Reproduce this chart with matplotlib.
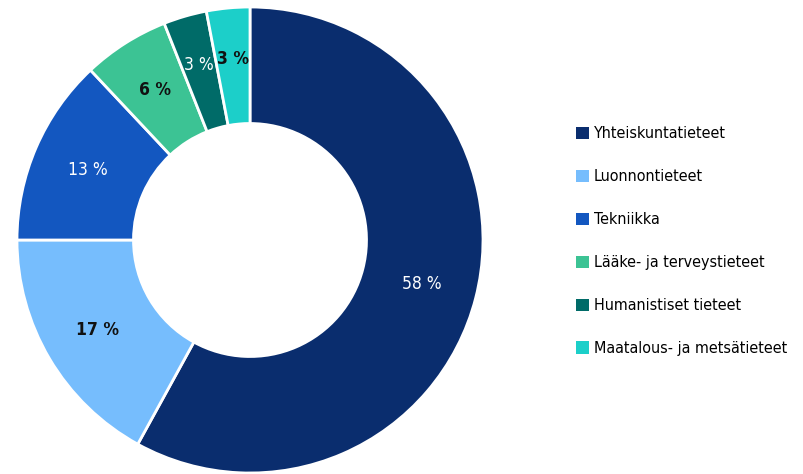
import numpy as np
import matplotlib
matplotlib.use('Agg')
from matplotlib import pyplot as plt
from matplotlib.patches import Patch

CATEGORIES = ['Yhteiskuntatieteet', 'Luonnontieteet', 'Tekniikka',
              'Lääke- ja terveystieteet', 'Humanistiset tieteet',
              'Maatalous- ja metsätieteet']
SHARES = [58, 17, 13, 6, 3, 3]
COLORS = ['#0a2d6e', '#76bdfd', '#1357c0', '#3cc394', '#006b68', '#1ccfc9']
LABEL_COLORS = ['white', '#111111', 'white', '#111111', 'white', '#111111']


def main():
	fig = plt.figure(figsize=(8.04, 4.74), dpi=100)
	W, H = 804, 474
	cx, cy, r = 250, 240, 233
	ax = fig.add_axes([(cx - r) / W, (H - cy - r) / H, 2 * r / W, 2 * r / H])

	wedges, _ = ax.pie(SHARES, colors=COLORS, startangle=90, counterclock=False,
	                   radius=1.0,
	                   wedgeprops=dict(width=0.5, edgecolor='white', linewidth=2))
	ax.set_xlim(-1, 1)
	ax.set_ylim(-1, 1)
	ax.set_aspect('equal')
	ax.axis('off')

	# value labels in the middle of each ring segment
	for w, val, tc in zip(wedges, SHARES, LABEL_COLORS):
		ang = np.deg2rad((w.theta1 + w.theta2) / 2)
		rad = 0.78 if val < 5 else 0.76
		x = rad * np.cos(ang)
		y = rad * np.sin(ang)
		weight = 'bold' if tc != 'white' else 'normal'
		ax.text(x, y, '{} %'.format(val), ha='center', va='center',
		        color=tc, fontsize=12.5, fontstretch='condensed', fontweight=weight)

	handles = [Patch(facecolor=c, edgecolor='none') for c in COLORS]
	fig.legend(handles, CATEGORIES, loc='upper left',
	           bbox_to_anchor=(562 / W, 1 - 112 / H), frameon=False,
	           prop={'size': 11.5, 'stretch': 'condensed'},
	           handlelength=0.8, handleheight=0.8, handletextpad=0.3,
	           labelspacing=1.75)

	fig.savefig('out.png', dpi=100)


if __name__ == "__main__":
	main()
